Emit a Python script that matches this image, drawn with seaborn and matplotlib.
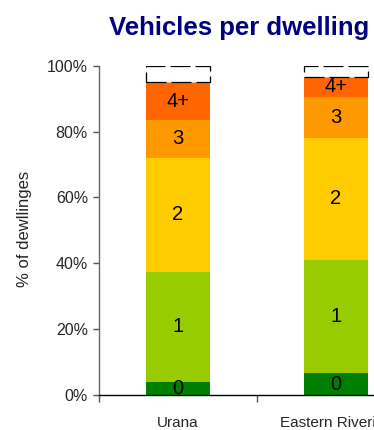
import matplotlib
matplotlib.use("Agg")
import matplotlib.pyplot as plt
import numpy as np
import pandas as pd
import seaborn as sns

# Share of dwellings by number of motor vehicles (%)
regions = ["Urana", "Eastern Riverina"]
veh_0 = [4.0, 6.5]
veh_1 = [33.3, 34.5]
veh_2 = [34.8, 37.2]
veh_3 = [11.6, 12.5]
veh_4plus = [11.3, 6.0]
not_stated = [5.0, 3.3]

segment_names = ["0", "1", "2", "3", "4+"]
segment_colors = ["#008000", "#99CC00", "#FFCC00", "#FF9900", "#FF6600"]

sns.set_theme(style="white")
plt.rcParams["font.family"] = ["Liberation Sans", "DejaVu Sans"]

segments = np.array([veh_0, veh_1, veh_2, veh_3, veh_4plus])
cum = np.cumsum(segments, axis=0)

fig = plt.figure(figsize=(3.74, 4.30), dpi=100)
W, H = 374, 430
ax = fig.add_axes([99 / W, (H - 394.7) / H, 474 / W, (394.7 - 66) / H])

bar_w = 0.405
# stacked bars: draw cumulative totals from the top layer down
for i in range(len(segment_names) - 1, -1, -1):
    df = pd.DataFrame({"region": regions, "value": cum[i]})
    sns.barplot(data=df, x="region", y="value", color=segment_colors[i],
                saturation=1, width=bar_w, ax=ax, linewidth=0, edgecolor="none")

# "not stated" segment on top, white with a dashed outline
ax.bar(np.arange(len(regions)), not_stated, bottom=cum[-1], width=bar_w,
       color="white", edgecolor="black", linewidth=0.9,
       linestyle=(0, (16, 4)))

# segment labels
for i, name in enumerate(segment_names):
    mids = cum[i] - segments[i] / 2
    for j in range(len(regions)):
        ax.text(j, mids[j], name, ha="center", va="center", fontsize=14.5,
                color="black")

ax.set_xlim(-0.5, 2.5)
ax.set_ylim(0, 100)
ax.set_yticks(np.arange(0, 101, 20))
ax.set_yticklabels([f"{v}%" for v in range(0, 101, 20)], fontsize=11.5)
ax.set_xticks([-0.5, 0.5, 1.5, 2.5])
ax.set_xticklabels([])
ax.set_xticks(range(len(regions)), minor=True)
ax.set_xticklabels(regions, minor=True, fontsize=11)
ax.tick_params(axis="x", which="minor", length=0, pad=15)
ax.tick_params(axis="x", which="major", length=5, width=1, color="#555555",
               direction="out", bottom=True)
ax.tick_params(axis="y", length=4, width=1, color="#555555", direction="out",
               left=True, pad=4)
ax.set_xlabel("")
ax.set_ylabel("% of dewllinges", fontsize=12)
ax.yaxis.set_label_coords(-(99 - 32) / 474, 0.505)

for s in ["top", "right"]:
    ax.spines[s].set_visible(False)
ax.spines["left"].set_color("#666666")
ax.spines["bottom"].set_color("black")
ax.spines["left"].set_linewidth(1)
ax.spines["bottom"].set_linewidth(1)

fig.text(239 / W, 1 - 28 / H, "Vehicles per dwelling", ha="center",
         va="center", fontsize=18.5, fontweight="bold", color="#000080")

fig.savefig("out.png", dpi=100)
